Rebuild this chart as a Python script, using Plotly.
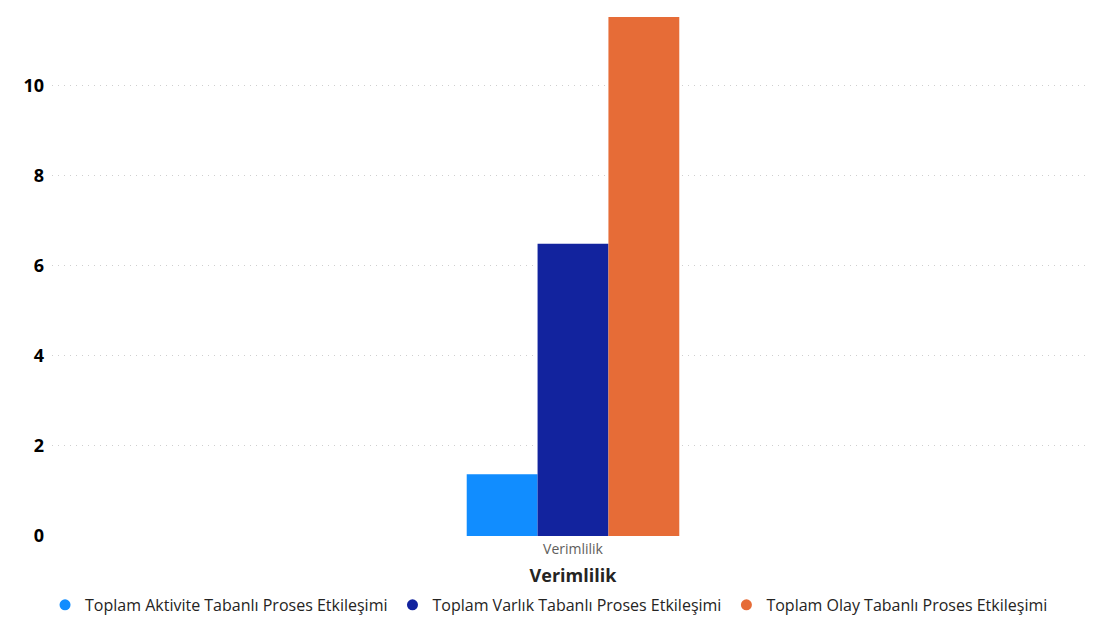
import plotly.graph_objects as go

categories = ["Verimlilik"]
series_names = [
    "Toplam Aktivite Tabanlı Proses Etkileşimi",
    "Toplam Varlık Tabanlı Proses Etkileşimi",
    "Toplam Olay Tabanlı Proses Etkileşimi",
]
series_values = [[1.37], [6.49], [11.53]]
colors = ["#118DFF", "#12239E", "#E66C37"]
y_ticks = [0, 2, 4, 6, 8, 10]

fig = go.Figure()
for name, vals, col in zip(series_names, series_values, colors):
    fig.add_trace(go.Bar(x=categories, y=vals, name=name, marker_color=col,
                         marker_line_width=0, showlegend=False, legendgroup=name))
for name, col in zip(series_names, colors):
    fig.add_trace(go.Scatter(x=[None], y=[None], mode="markers", name=name,
                             marker=dict(symbol="circle", size=11, color=col),
                             legendgroup=name))

fig.update_layout(
    width=1086, height=614,
    margin=dict(l=44, r=0, t=9, b=86, autoexpand=False),
    plot_bgcolor="white", paper_bgcolor="white",
    barmode="group", bargap=0.796, bargroupgap=0,
    font=dict(family="Open Sans", color="#252423"),
    xaxis=dict(
        title=dict(text="<b>Verimlilik</b>", font=dict(size=18, color="#252423", family="Open Sans"), standoff=12),
        tickfont=dict(size=14, color="#605E5C"), showgrid=False, zeroline=False, ticks="",
        ticklabelstandoff=3,
    ),
    yaxis=dict(
        range=[0, 11.53], tickvals=y_ticks, ticktext=[f"<b>{v}</b>" for v in y_ticks],
        tickfont=dict(size=18, color="black", family="Open Sans"),
        showgrid=True, gridcolor="#CFCFCF", griddash="1px,5px", gridwidth=1,
        zeroline=False, ticklabelstandoff=7,
    ),
    legend=dict(orientation="h", x=0.477, xanchor="center", y=-0.100, yanchor="top",
                font=dict(size=16, color="#252423"), itemwidth=30, tracegroupgap=0,
                bgcolor="rgba(0,0,0,0)"),
)

fig.write_html("out.html", config={"displayModeBar": False})
